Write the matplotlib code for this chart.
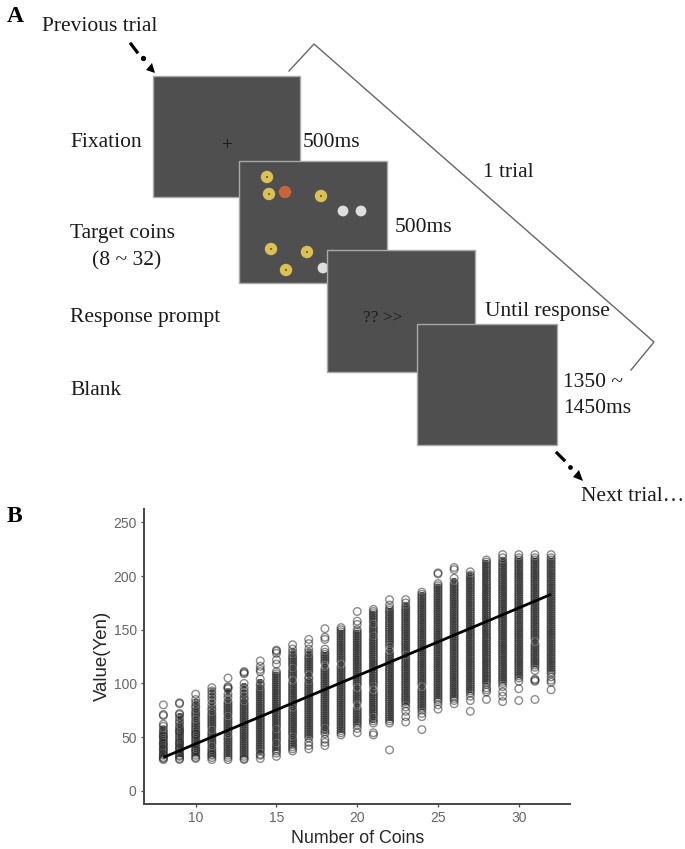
#!/usr/bin/env python3
"""Trial sequence diagram (A) and coins vs. value scatter (B)."""

import matplotlib
matplotlib.use("Agg")
import matplotlib.pyplot as plt
from matplotlib.patches import Circle, Polygon, Rectangle

# panel B data, one list of values per coin count
COIN_COUNTS = list(range(8, 33))
VALUES = [
    [29, 30, 31, 33, 34, 36, 38, 39, 41, 43, 44, 46, 48, 50, 51, 53, 55, 57, 60, 62, 70, 71, 80],
    [29, 30, 32, 33, 35, 37, 39, 40, 42, 44, 45, 47, 49, 51, 53, 55, 56, 58, 60, 63, 65, 68, 71, 72, 81, 82],
    [30, 31, 33, 35, 37, 38, 40, 42, 44, 46, 48, 50, 52, 53, 55, 57, 59, 61, 63, 65, 68, 70, 72, 74, 77, 79, 82, 85, 90],
    [29, 31, 33, 34, 36, 38, 40, 43, 45, 47, 49, 51, 53, 55, 58, 60, 62, 64, 66, 68, 70, 72, 75, 77, 80, 84, 87, 90, 93, 96],
    [29, 31, 33, 35, 37, 39, 41, 43, 45, 47, 49, 51, 54, 56, 58, 60, 62, 64, 66, 68, 71, 73, 75, 77, 79, 81, 83, 87, 90, 95, 96, 97, 105],
    [29, 30, 32, 34, 36, 38, 40, 42, 44, 46, 48, 50, 52, 54, 56, 58, 60, 62, 64, 66, 68, 70, 72, 74, 76, 78, 80, 82, 85, 87, 90, 93, 96, 100, 109, 110, 111],
    [30, 33, 34, 37, 39, 41, 43, 45, 47, 49, 51, 53, 55, 57, 59, 61, 63, 65, 67, 69, 71, 73, 75, 77, 79, 81, 83, 85, 87, 89, 91, 93, 95, 98, 100, 104, 111, 113, 116, 121],
    [32, 35, 37, 39, 41, 43, 46, 48, 50, 52, 54, 56, 59, 61, 63, 65, 67, 69, 71, 73, 75, 77, 79, 81, 83, 85, 87, 89, 91, 93, 95, 97, 99, 101, 103, 105, 107, 109, 111, 118, 122, 128, 130, 131],
    [37, 39, 41, 43, 45, 47, 49, 52, 54, 56, 58, 60, 62, 64, 66, 68, 70, 72, 74, 76, 79, 81, 83, 85, 87, 89, 91, 93, 95, 97, 99, 101, 105, 107, 109, 111, 113, 116, 118, 120, 122, 124, 126, 129, 132, 136],
    [39, 42, 45, 49, 51, 53, 55, 57, 59, 61, 63, 65, 67, 69, 71, 73, 75, 77, 79, 81, 83, 85, 87, 89, 91, 93, 95, 97, 99, 101, 104, 106, 110, 112, 114, 116, 118, 120, 122, 124, 126, 129, 132, 137, 141],
    [42, 45, 48, 53, 55, 57, 60, 62, 64, 66, 68, 70, 72, 74, 76, 78, 80, 82, 84, 86, 88, 90, 92, 94, 96, 98, 100, 102, 104, 106, 108, 110, 112, 114, 119, 121, 123, 125, 127, 129, 132, 141, 143, 151],
    [52, 54, 56, 58, 60, 62, 64, 66, 68, 70, 72, 74, 76, 78, 80, 82, 84, 86, 88, 90, 92, 94, 96, 98, 100, 102, 104, 106, 108, 110, 112, 114, 116, 120, 122, 124, 126, 128, 130, 132, 134, 136, 138, 140, 142, 144, 146, 148, 150, 152],
    [54, 58, 61, 63, 65, 67, 69, 71, 73, 75, 77, 82, 84, 86, 88, 90, 92, 94, 98, 100, 102, 104, 106, 108, 110, 112, 114, 116, 118, 120, 122, 124, 126, 128, 130, 132, 134, 136, 138, 140, 142, 144, 146, 148, 150, 155, 158, 167],
    [52, 54, 63, 65, 67, 70, 72, 74, 76, 78, 80, 82, 84, 86, 88, 90, 92, 96, 99, 101, 103, 105, 107, 109, 111, 113, 115, 117, 119, 121, 123, 125, 127, 129, 131, 133, 135, 137, 139, 141, 143, 146, 148, 150, 152, 154, 157, 159, 161, 163, 165, 167, 169],
    [38, 63, 65, 67, 69, 71, 73, 75, 77, 79, 81, 83, 85, 87, 89, 91, 93, 95, 97, 99, 101, 103, 105, 107, 109, 111, 113, 115, 117, 119, 121, 123, 125, 127, 129, 133, 136, 138, 140, 142, 144, 146, 148, 150, 152, 154, 156, 158, 160, 162, 164, 166, 168, 170, 173, 178],
    [64, 69, 74, 78, 81, 83, 85, 87, 89, 91, 93, 95, 97, 99, 101, 103, 105, 107, 109, 111, 113, 115, 117, 119, 121, 123, 125, 128, 130, 132, 134, 136, 138, 140, 142, 144, 146, 148, 150, 152, 154, 156, 158, 160, 162, 164, 166, 168, 170, 172, 175, 178],
    [57, 69, 72, 75, 77, 79, 81, 83, 85, 87, 89, 91, 93, 95, 99, 101, 103, 105, 107, 109, 111, 113, 115, 117, 119, 121, 123, 125, 127, 129, 131, 133, 135, 137, 139, 141, 143, 145, 147, 149, 151, 153, 155, 157, 159, 161, 163, 165, 167, 169, 171, 173, 175, 177, 179, 181, 183, 185],
    [76, 80, 83, 85, 87, 89, 91, 93, 95, 97, 99, 101, 103, 105, 107, 109, 111, 113, 115, 117, 119, 121, 123, 125, 127, 129, 131, 133, 135, 137, 139, 141, 143, 145, 147, 149, 151, 153, 155, 157, 159, 161, 163, 165, 167, 169, 171, 173, 175, 177, 179, 181, 183, 185, 187, 189, 191, 193, 202, 203],
    [81, 84, 86, 88, 90, 92, 94, 96, 98, 100, 102, 104, 106, 108, 110, 112, 114, 116, 118, 120, 122, 124, 126, 128, 130, 132, 134, 136, 138, 140, 142, 144, 146, 148, 150, 152, 154, 156, 158, 160, 162, 164, 166, 168, 170, 172, 174, 176, 178, 180, 182, 184, 186, 188, 190, 192, 194, 198, 206, 208],
    [74, 84, 88, 91, 93, 95, 97, 99, 101, 103, 105, 107, 109, 111, 113, 115, 117, 119, 121, 123, 125, 127, 129, 131, 133, 135, 137, 139, 141, 143, 145, 147, 149, 151, 153, 155, 157, 159, 161, 163, 165, 167, 169, 171, 173, 175, 177, 179, 181, 183, 185, 187, 189, 191, 193, 195, 197, 199, 201, 204],
    [85, 92, 94, 96, 99, 101, 103, 105, 107, 109, 111, 113, 115, 117, 119, 121, 123, 125, 127, 129, 131, 133, 135, 137, 139, 141, 143, 145, 147, 149, 151, 153, 155, 157, 159, 161, 163, 165, 167, 169, 171, 173, 175, 177, 179, 181, 183, 185, 187, 189, 191, 193, 195, 197, 199, 201, 203, 205, 207, 209, 211, 213, 215],
    [83, 88, 92, 97, 100, 102, 104, 106, 108, 110, 112, 114, 116, 118, 120, 122, 124, 126, 128, 130, 132, 134, 136, 138, 140, 142, 144, 146, 148, 150, 152, 154, 156, 158, 160, 162, 164, 166, 168, 170, 172, 174, 176, 178, 180, 182, 184, 186, 188, 190, 192, 194, 196, 198, 200, 202, 204, 206, 208, 210, 212, 214, 217, 220],
    [84, 95, 102, 105, 107, 109, 111, 113, 115, 117, 119, 121, 123, 125, 127, 129, 131, 133, 135, 137, 139, 141, 143, 145, 147, 149, 151, 153, 155, 157, 159, 161, 163, 165, 167, 169, 171, 173, 175, 177, 179, 181, 183, 185, 187, 189, 191, 193, 195, 197, 199, 201, 203, 205, 207, 209, 211, 213, 215, 217, 220],
    [85, 102, 103, 104, 112, 115, 117, 119, 121, 123, 125, 127, 129, 131, 133, 135, 137, 141, 143, 145, 147, 149, 151, 153, 155, 157, 159, 161, 163, 165, 167, 169, 171, 173, 175, 177, 179, 181, 183, 185, 187, 189, 191, 193, 195, 197, 199, 201, 203, 205, 207, 209, 211, 213, 215, 217, 220],
    [94, 101, 103, 106, 109, 111, 113, 115, 117, 119, 121, 123, 125, 127, 129, 131, 133, 135, 137, 139, 141, 143, 145, 147, 149, 151, 153, 155, 157, 159, 161, 163, 165, 167, 169, 171, 173, 175, 177, 179, 181, 183, 185, 187, 189, 191, 193, 195, 197, 199, 201, 203, 205, 207, 209, 211, 213, 215, 217, 220],
]
# extent of the solid overplotted part of each column
DENSE_LOW = [31, 31, 32, 31, 31, 31, 34, 37, 41, 49, 53, 54, 61, 63, 65, 80, 75, 85, 86, 91, 99, 100, 105, 115, 111]
DENSE_HIGH = [60, 72, 85, 96, 96, 100, 104, 111, 132, 132, 129, 150, 150, 167, 170, 175, 185, 193, 198, 204, 215, 217, 217, 217, 217]
FIT_X = [8, 32]
FIT_Y = [31, 183]
X_TICKS = [10, 15, 20, 25, 30]
Y_TICKS = [0, 50, 100, 150, 200, 250]

# panel A layout, in image pixels: left, top, right, bottom
SCREENS = [(153, 76, 300, 197), (239, 161, 387, 283), (327, 250, 475, 372), (417, 324, 557, 445)]
GOLD_COINS = [(267, 177), (269, 194), (321, 196), (271, 249), (307, 252), (286, 270)]
WHITE_COINS = [(343, 211), (361, 211), (323, 268)]
RED_COIN = (285, 192)
BRACKET = [(289, 71), (314, 44), (654, 342), (631, 370)]
LABELS = [
    (42, 31, "Previous trial"), (70, 147, "Fixation"), (303, 147, "500ms"),
    (70, 238, "Target coins"), (92, 265, "(8 ~ 32)"), (395, 232, "500ms"),
    (70, 322, "Response prompt"), (485, 316, "Until response"), (70, 395, "Blank"),
    (563, 387, "1350 ~"), (563, 413, "1450ms"), (483, 177, "1 trial"),
    (581, 501, "Next trial…"),
]

W, H = 685, 849
SERIF = "Liberation Serif"
SANS = "Liberation Sans"
SCREEN = "#4f4f4f"

fig = plt.figure(figsize=(W / 100, H / 100), dpi=100, facecolor="white")

# diagram axes spans the whole image so it can use pixel positions
dia = fig.add_axes([0, 0, 1, 1])
dia.set_xlim(0, W)
dia.set_ylim(H, 0)
dia.axis("off")

for i, (l, t, r, b) in enumerate(SCREENS):
    dia.add_patch(Rectangle((l, t), r - l, b - t, fc=SCREEN, ec="#a9a9a9", lw=1.0, zorder=2 + 2 * i))

dia.plot([223, 231], [143, 143], color="#1c1c1c", lw=0.7, zorder=3)
dia.plot([227, 227], [139, 147], color="#1c1c1c", lw=0.7, zorder=3)

for x, y in GOLD_COINS:
    dia.add_patch(Circle((x, y), 6.2, fc="#dcc053", ec="none", zorder=5))
    dia.add_patch(Circle((x, y), 0.9, fc="#4a3c10", ec="none", zorder=5))
for x, y in WHITE_COINS:
    dia.add_patch(Circle((x, y), 5.4, fc="#dedede", ec="none", zorder=5))
dia.add_patch(Circle(RED_COIN, 6.2, fc="#c9643a", ec="none", zorder=5))

dia.plot(*zip(*BRACKET), color="#666666", lw=1.0, solid_joinstyle="miter", zorder=1)

# dash, dot and head of the two "trial" arrows
dia.plot([131, 137], [44, 52], color="black", lw=2.3)
dia.plot([143], [58], "o", color="black", ms=2.8)
dia.add_patch(Polygon([(155, 73), (146, 70), (152, 63)], fc="black", ec="none"))
dia.plot([557, 564], [453, 460], color="black", lw=2.3)
dia.plot([570], [467], "o", color="black", ms=2.4)
dia.add_patch(Polygon([(583, 481), (573, 477), (579, 470)], fc="black", ec="none"))

for x, y, s in LABELS:
    dia.text(x, y, s, family=SERIF, fontsize=15.5, color="#1a1a1a", ha="left", va="baseline", zorder=12)
dia.text(363, 322, "?? >>", family=SERIF, fontsize=12.5, color="#1c1c1c", ha="left", va="baseline", zorder=6)
dia.text(7, 22, "A", family=SERIF, fontsize=17, fontweight="bold", color="black", va="baseline")
dia.text(7, 522, "B", family=SERIF, fontsize=17, fontweight="bold", color="black", va="baseline")

# scatter axes, limits chosen so ticks land where they do in the image
ax = fig.add_axes([144.3 / W, (H - 803.7) / H, (570 - 144.3) / W, (803.7 - 509) / H])
ax.patch.set_alpha(0)
ax.vlines(COIN_COUNTS, DENSE_LOW, DENSE_HIGH, color="#222222", lw=3.2, alpha=0.6, zorder=2)
for n, vals in zip(COIN_COUNTS, VALUES):
    ax.scatter([n] * len(vals), vals, s=30, facecolors="none", edgecolors="#1a1a1a",
               linewidths=1.0, alpha=0.5, clip_on=False, zorder=2)
ax.plot(FIT_X, FIT_Y, color="black", lw=2.0, solid_capstyle="butt", zorder=3)
ax.set_xlim(6.82, 33.17)
ax.set_ylim(-12.1, 262.5)
ax.set_xticks(X_TICKS)
ax.set_yticks(Y_TICKS)
for side in ("top", "right"):
    ax.spines[side].set_visible(False)
for side in ("left", "bottom"):
    ax.spines[side].set_color("#484848")
    ax.spines[side].set_linewidth(1.4)
ax.tick_params(length=2.5, width=0.9, color="#484848", labelcolor="#666666", labelsize=10, pad=3)
for lab in ax.get_xticklabels() + ax.get_yticklabels():
    lab.set_family(SANS)
ax.set_xlabel("Number of Coins", family=SANS, fontsize=12.8, color="#262626", labelpad=3)
ax.set_ylabel("Value(Yen)", family=SANS, fontsize=13.4, color="#262626", labelpad=2)

fig.savefig("out.png", dpi=100, facecolor="white")
